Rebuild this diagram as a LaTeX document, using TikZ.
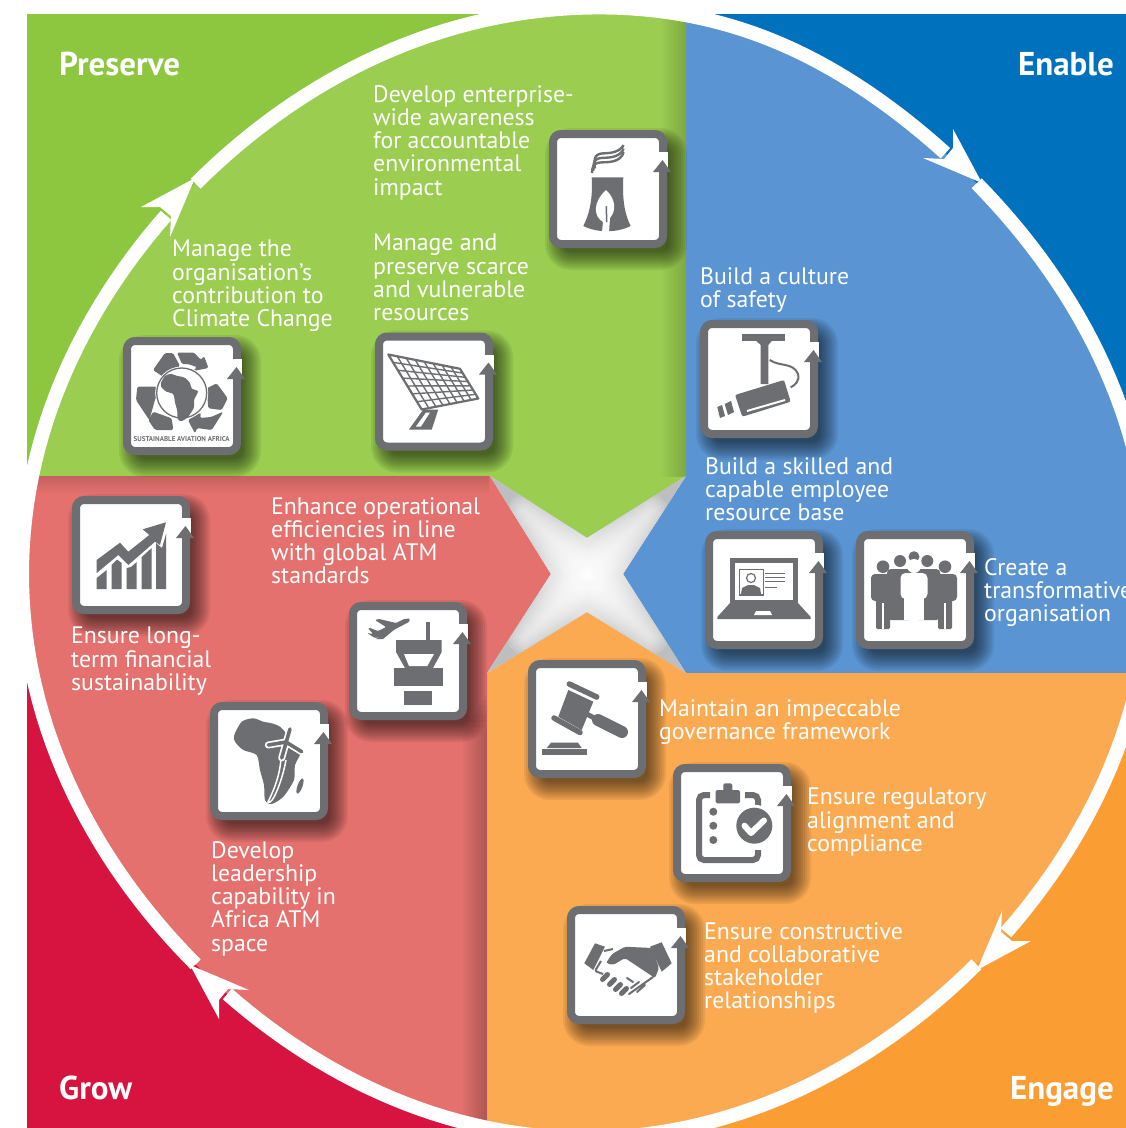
\documentclass[tikz,border=0pt]{standalone}
\usepackage{fontspec}
\setmainfont{PT Sans}
\usepackage{xcolor}
\usepackage{tikz}
\usetikzlibrary{calc}

\definecolor{greenout}{HTML}{8DC63F}
\definecolor{greenin}{HTML}{9ACD50}
\definecolor{blueout}{HTML}{0071BC}
\definecolor{bluein}{HTML}{5A94D2}
\definecolor{orangeout}{HTML}{FA9D33}
\definecolor{orangein}{HTML}{FBAA52}
\definecolor{redout}{HTML}{D7143F}
\definecolor{redin}{HTML}{E4716E}
\definecolor{tilegrey}{HTML}{6D6E71}
\definecolor{stargrey}{HTML}{BDBEC0}

\tikzset{
  tilebox/.style={draw=tilegrey, fill=white, line width=8, rounded corners=8, minimum size=110, inner sep=0},
  capt/.style={anchor=north west, inner sep=0, align=left, text=white, font=\fontsize{23.8}{23.3}\selectfont, execute at begin node=\strut},
  cornertxt/.style={inner sep=0, text=white, font=\fontsize{33}{34}\selectfont\bfseries},
  icongrey/.style={fill=tilegrey, draw=none},
  iconline/.style={draw=tilegrey, fill=none},
  declare function={ringr(\a)=564-12*sin(2*\a)*sin(2*\a)+6*exp(-(((\a+73)/18)^2));}
}

% A tile with its soft shadow
\newcommand{\tile}[3]{
  \foreach \k in {0,...,9} {
    \fill[black, opacity=.065, rounded corners={8+\k*2}] ({#2+8-53-\k*2},{#3+10-53-\k*2}) rectangle ({#2+8+53+\k*2},{#3+10+53+\k*2});
  }
  \node[tilebox] (#1) at (#2,#3) {};
}
% Notch and small arrowhead on the right side of a tile
\newcommand{\tilemark}[1]{
  \fill[white] ([shift={(-10,22)}]#1.north east) rectangle ([shift={(0.5,38)}]#1.north east);
  \fill[icongrey] ([shift={(-4.5,30)}]#1.north east) -- ([shift={(-14,42)}]#1.north east) -- ([shift={(4,42)}]#1.north east) -- cycle;
}
\newcommand{\africashape}{plot[smooth cycle, tension=.45] coordinates {(24.3,33) (31.7,19.7) (43.3,16.3) (53.3,19.7) (61.7,21.3) (70,24.7) (77.3,33) (80.7,43) (91.7,48) (85,63) (84,78) (73.3,94.7) (61.7,102) (55,98) (54,83) (50,68) (46.7,53) (33.3,48) (25,39.7)}}

\begin{document}
\begin{tikzpicture}[x=1pt,y=-1pt]
  \useasboundingbox (0,0) rectangle (1126,1128);

  % Outer corners
  \fill[greenout] (27,14) rectangle (686,476);
  \fill[blueout] (686,14) rectangle (1126,673);
  \fill[orangeout] (487,673) rectangle (1126,1128);
  \fill[redout] (27,476) rectangle (487,1128);

  % Inner quarters
  \begin{scope}
    \clip plot[domain=-135:225,samples=200] ({586+ringr(\x)*cos(\x)},{574+ringr(\x)*sin(\x)}) -- cycle;
    \fill[greenin] (0,0) -- (686,0) -- (686,476) -- (587,538) -- (490,476) -- (0,476) -- cycle;
    \fill[bluein] (686,0) -- (1200,0) -- (1200,673) -- (686,673) -- (623,574) -- (686,476) -- cycle;
    \fill[orangein] (1200,673) -- (1200,1200) -- (487,1200) -- (487,673) -- (587,612) -- (686,673) -- cycle;
    \fill[redin] (487,1200) -- (0,1200) -- (0,476) -- (490,476) -- (551,574) -- (487,673) -- cycle;
    % Soft edges of the quarters
    \shade[left color=greenin, right color=greenin!82!black] (660,0) rectangle (686,476);
    \foreach \k in {1,...,8} {
      \fill[black, opacity=.028] ({487-\k*3},{690+\k*5}) rectangle (487,1200);
    }
    \shade[top color=redin!86!black, bottom color=redin] (0,476) rectangle (489,494);
  \end{scope}

  % Star in the middle
  \begin{scope}
    \clip (490,476) -- (587,538) -- (686,476) -- (623,574) -- (686,673) -- (587,612) -- (487,673) -- (551,574) -- cycle;
    \fill[stargrey] (460,446) rectangle (716,703);
    \shade[inner color=white, outer color=stargrey] (497,484) rectangle (677,664);
    \foreach \w in {6,12,...,36} {
      \draw[white, opacity=.14, line width=\w, line cap=round] (525,512) -- (650,637) (650,512) -- (525,637);
    }
  \end{scope}

  % Ring with its four arrows
  \foreach \a in {0,90,180,270} {
    \draw[white, line width=14] plot[domain={\a-135}:{\a-49.5},samples=60] ({586+ringr(\x)*cos(\x)},{574+ringr(\x)*sin(\x)});
    \fill[white, rotate around={-\a:(586,574)}] (953,129) -- (982,183) -- (923,158) -- (944,159) -- (953,148) -- cycle;
  }

  % Corner names
  \node[cornertxt, anchor=base west] (preserve) at (59,75) {Preserve};
  \node[cornertxt, anchor=base east] (enable) at (1114,75) {Enable};
  \node[cornertxt, anchor=base west] (grow) at (59,1099) {Grow};
  \node[cornertxt, anchor=base east] (engage) at (1114,1099) {Engage};

  % Tiles
  \tile{tower}{608}{189}
  \tile{panel}{434}{391.5}
  \tile{recycle}{182}{396}
  \tile{chart}{131}{555}
  \tile{atc}{408}{661}
  \tile{africa}{269}{761}
  \tile{camera}{759}{379}
  \tile{laptop}{764}{590}
  \tile{people}{915}{590}
  \tile{gavel}{587}{719}
  \tile{clipboard}{732}{823}
  \tile{handshake}{626}{965}
  \foreach \n in {tower,panel,recycle,chart,atc,africa,camera,laptop,people,gavel,clipboard,handshake} {
    \tilemark{\n}
  }

  % Cooling tower
  \begin{scope}[shift=(tower.north west)]
    \fill[icongrey] (42.7,47.3) -- (74.3,47.3) .. controls (73,70) and (76,85) .. (81.7,96) .. controls (68,103) and (48,103) .. (34.3,96) .. controls (40,85) and (44,70) .. (42.7,47.3) -- cycle;
    \fill[white] (57,60) .. controls (44,72) and (44,86) .. (54,92) -- (53,102) -- (60,102) -- (61,88) .. controls (68,80) and (66,68) .. (57,60) -- cycle;
    \fill[icongrey] (56.5,76) -- (58,76) -- (58.5,92) -- (57,92) -- cycle;
    \foreach \s in {0,4.5,9} {
      \draw[iconline, line width=2.4] ({43+\s/3},{43-\s/2}) .. controls (43,{30-\s}) and (52,{33-\s}) .. (60,{32-\s}) .. controls (70,{31-\s}) and (74,{26-\s}) .. (74.5,{22-\s/1.3});
    }
  \end{scope}

  % Solar panel
  \begin{scope}[shift=(panel.north west)]
    \coordinate (pa) at (13.3,22);
    \coordinate (pb) at (85,36.3);
    \coordinate (pc) at (103.3,66);
    \coordinate (pd) at (46.7,77);
    \draw[iconline, line width=2.2, line join=round] (pa) -- (pb) -- (pc) -- (pd) -- cycle;
    \foreach \t in {0.125,0.25,...,0.9} {
      \draw[iconline, line width=1.4] ($(pa)!\t!(pb)$) -- ($(pd)!\t!(pc)$);
    }
    \foreach \t in {0.143,0.286,...,0.9} {
      \draw[iconline, line width=1.4] ($(pa)!\t!(pd)$) -- ($(pb)!\t!(pc)$);
    }
    \fill[icongrey] (48.3,77) -- (63.3,77) -- (56.7,97) -- (34,97) -- cycle;
    \fill[white] (51,80) -- (55,80) -- (46,94) -- (41,94) -- cycle;
  \end{scope}

  % Recycling arrows round Africa
  \begin{scope}[shift=(recycle.north west)]
    \begin{scope}[rounded corners=1.5]
      \fill[icongrey] (30,33) -- (42,16) -- (50,16) -- (57,29) -- (42,41) -- cycle;
      \fill[icongrey] (54,15.5) -- (71,15.5) -- (78,23) -- (81,19) -- (85.5,31) -- (70,34) -- (74,30) -- (65,27) -- (59,27) -- cycle;
      \fill[icongrey] (93.7,46.3) -- (104.7,61.3) -- (98.7,73) -- (85.3,71.3) -- (83.7,51.3) -- cycle;
      \fill[icongrey] (100.3,74.7) -- (88.7,93) -- (74,91) -- (72,96.5) -- (65,83) -- (78,75.5) -- (77,81) -- (88,80) -- cycle;
      \fill[icongrey] (30.3,74.7) -- (48.7,81.3) -- (50.3,93) -- (32,93) -- (25.3,83) -- cycle;
      \fill[icongrey] (14.3,49.7) -- (33.7,49.7) -- (38,62.3) -- (32.7,60.3) -- (26.3,83) -- (13,63) -- cycle;
    \end{scope}
    \fill[white] (58.7,56) circle[radius=26.5];
    \draw[iconline, line width=1.3] (58.7,56) circle[radius=25];
    \begin{scope}[shift={(24.5,28)},scale=.55]
      \fill[icongrey] \africashape;
    \end{scope}
    \node[inner sep=0, text=tilegrey, font=\fontsize{7}{7}\selectfont\bfseries] (sustain) at (58.7,102) {SUSTAINABLE AVIATION AFRICA};
  \end{scope}

  % Rising chart
  \begin{scope}[shift=(chart.north west)]
    \fill[icongrey] (24.7,93) -- (34.7,93) -- (34.7,74) -- (24.7,82) -- cycle;
    \fill[icongrey] (39.7,93) -- (49.7,93) -- (49.7,67) -- (45,63.5) -- (39.7,69) -- cycle;
    \fill[icongrey] (54.7,93) -- (64.7,93) -- (64.7,66) -- (59,71) -- (54.7,72) -- cycle;
    \fill[icongrey] (69.7,93) -- (79.7,93) -- (79.7,52) -- (69.7,61) -- cycle;
    \fill[icongrey] (84,93) -- (94,93) -- (94,38) -- (90,52) -- (84,47) -- cycle;
    \fill[icongrey] (24.7,64) -- (48,46.7) -- (56.3,55.7) -- (77.3,39) -- (70.7,33.3) -- (94,26.3) -- (88,49) -- (83,45.7) -- (56.3,69) -- (46.3,59) -- (24.7,77) -- cycle;
  \end{scope}

  % Control tower and aeroplane
  \begin{scope}[shift=(atc.north west)]
    \fill[icongrey] (77,20.3) rectangle (81,38);
    \fill[icongrey] (47,38) -- (92.7,38) -- (92.7,50) -- (84,66) -- (56,66) -- (47,50) -- cycle;
    \fill[white] (55,52) -- (85,52) -- (78.3,64) -- (60,64) -- cycle;
    \fill[icongrey] (45,66.3) rectangle (93.7,84);
    \fill[icongrey] (55,89) rectangle (83.3,103);
    \fill[icongrey, rounded corners=1] (18,31) -- (26,36) -- (31,35) -- (60,20) -- (61,16.5) -- (55,17) -- (47,21) -- (30,17) -- (26,18) -- (37,25) -- (29,29) -- (21,26) -- (19,26) -- (24,32) -- cycle;
    \fill[icongrey] (36,31) -- (46,27) -- (34,37) -- (27,37) -- cycle;
  \end{scope}

  % Map of Africa with an aeroplane
  \begin{scope}[shift=(africa.north west)]
    \fill[icongrey] \africashape;
    \fill[icongrey, rotate around={-20:(90,84)}] (90,84) ellipse[x radius=2.5, y radius=8];
    \draw[white, line width=1.5] (71,56) .. controls (70,75) and (62,92) .. (58,100) .. controls (62,104) and (72,80) .. (76,58);
    \draw[white, line width=7, line cap=round] (80,27) -- (71.7,56) (58.3,43) -- (76,40) -- (91.7,49.7);
    \draw[tilegrey, line width=3.6, line cap=round] (80,27) -- (71.7,56) (58.3,43) -- (76,40) -- (91.7,49.7);
  \end{scope}

  % Security camera
  \begin{scope}[shift=(camera.north west)]
    \fill[icongrey] (42.3,14.3) rectangle (84.7,20.7);
    \fill[icongrey] (56,20.7) -- (72,20.7) -- (68.3,25) -- (68.3,64) -- (60.7,64) -- (60.7,25) -- cycle;
    \fill[icongrey, rounded corners=2] (35,75) -- (84,60) -- (90.7,81.7) -- (42.3,96.7) -- cycle;
    \draw[white, line width=2] (47,91) -- (85,80);
    \fill[icongrey] (24.7,84) -- (31,81) -- (34,92) -- (28,95) -- cycle;
    \fill[icongrey] (17.3,87) -- (22,85) -- (25,96) -- (20,98) -- cycle;
    \draw[iconline, line width=2] (69.7,40) .. controls (80,47) and (93,42) .. (98,54) .. controls (100,61) and (95,65) .. (90.7,67.3);
  \end{scope}

  % Laptop with a profile
  \begin{scope}[shift=(laptop.north west)]
    \fill[icongrey] (25,27.3) rectangle (93,73);
    \fill[white] (30,32.3) rectangle (88,69);
    \fill[icongrey] (25,72) -- (93,72) -- (105.7,86) -- (105.7,88) -- (12.3,88) -- (12.3,86) -- cycle;
    \fill[white] (51,80) -- (65,80) -- (67,84) -- (49,84) -- cycle;
    \draw[iconline, line width=1.2] (34.3,38.3) rectangle (58.3,64);
    \fill[icongrey] (36,63) -- (37,57) -- (43,54) -- (49,54) -- (55,57) -- (56,63) -- cycle;
    \draw[iconline, line width=1.2] (46,47) circle[radius=4.5];
    \draw[iconline, line width=1.3] (60,42.3) -- (80,42.3) (60,46.3) -- (80,46.3) (60,50.7) -- (80,50.7) (60,56.3) -- (72,56.3);
  \end{scope}

  % Group of people
  \begin{scope}[shift=(people.north west)]
    \fill[icongrey] (58,25.7) circle[radius=5.5];
    \foreach \px in {44,71.3} {
      \fill[icongrey] (\px,30) circle[radius=6];
      \fill[icongrey, rounded corners=4] ({\px-13},38) rectangle ({\px+13},89);
    }
    \fill[white, rounded corners=5] (44.5,42) rectangle (71.5,68);
    \fill[white] (48,66) rectangle (68,89);
    \fill[white] (58,35) circle[radius=7];
    \foreach \px in {27,89} {
      \fill[icongrey] (\px,35.7) circle[radius=6.3];
      \fill[icongrey, rounded corners=4] ({\px-12},43) rectangle ({\px+12},70);
      \fill[icongrey, rounded corners=1.5] ({\px-7},60) rectangle ({\px+7},98);
      \draw[white, line width=1.5] (\px,72) -- (\px,98);
    }
    \draw[white, line width=1.5] (58,68) -- (58,89);
  \end{scope}

  % Gavel
  \begin{scope}[shift=(gavel.north west)]
    \fill[icongrey] (40.3,30) -- (65.3,41.7) -- (53.7,70) -- (30.3,56.7) -- cycle;
    \draw[tilegrey, line width=5.5, line cap=round] (41.3,24) -- (68.7,37);
    \draw[tilegrey, line width=5.5, line cap=round] (26,58) -- (52,72.5);
    \draw[tilegrey, line width=5, line cap=butt] (57,53) -- (68,59);
    \draw[tilegrey, line width=12, line cap=round] (70,60) -- (94,72);
    \fill[icongrey] (13.7,89) rectangle (58.7,95);
    \fill[icongrey] (18.7,88) -- (53.7,88) -- (50,82.7) -- (23,82.7) -- cycle;
  \end{scope}

  % Clipboard with a tick
  \begin{scope}[shift=(clipboard.north west)]
    \draw[iconline, line width=6, rounded corners=5] (37,31) -- (26,31) -- (26,96) -- (85,96) -- (85,86);
    \draw[iconline, line width=6, rounded corners=5] (72,31) -- (85,31) -- (85,42);
    \fill[icongrey, rounded corners=1.5] (42.7,26) rectangle (67,39.3);
    \fill[icongrey, rounded corners=1.5] (50.3,19.3) rectangle (59.3,28);
    \foreach \py in {47.7,61.7,76} {
      \fill[icongrey] (40.3,\py) circle[radius=4];
    }
    \fill[white] (81.3,61.7) circle[radius=21];
    \fill[icongrey] (81.3,61.7) circle[radius=18];
    \draw[white, line width=6, line cap=round, line join=round] (71.5,61.7) -- (78,69) -- (91,56.5);
  \end{scope}

  % Handshake
  \begin{scope}[shift=(handshake.north west)]
    \fill[icongrey] (28,37.3) -- (38,40.7) -- (26.3,64) -- (17.3,57.3) -- cycle;
    \fill[icongrey] (94.7,36.3) -- (104.7,57.3) -- (94.7,65.7) -- (83,40.7) -- cycle;
    \fill[icongrey, rounded corners=2] (85,42) -- (58,40.7) -- (45,48) -- (39,57) -- (46,59) -- (58,52) -- (88,72) -- (92,62) -- cycle;
    \draw[iconline, line width=2, rounded corners=2] (37,45) -- (46,43) (34,55) -- (28,65) -- (36,68);
    \foreach \fx/\fy in {38/71,45/76,51/81,57/85} {
      \draw[tilegrey, line width=5, line cap=round] ({\fx-2.5},{\fy+2.5}) -- ({\fx+2.5},{\fy-2.5});
    }
    \draw[iconline, line width=2, line cap=round] (62,88) -- (86,71) (64,82) -- (72,76) (70,86) -- (78,79) (60,72) -- (66,76);
  \end{scope}

  % Captions
  \node[capt] (t1) at (373,85) {Develop enterprise-\\wide awareness\\for accountable\\environmental\\impact};
  \node[capt] (t2) at (373,234) {Manage and\\preserve scarce\\and vulnerable\\resources};
  \node[capt] (t3) at (172,240) {Manage the\\organisation’s\\contribution to\\Climate Change};
  \node[capt] (t4) at (700,267) {Build a culture\\of safety};
  \node[capt] (t5) at (705,457) {Build a skilled and\\capable employee\\resource base};
  \node[capt] (t6) at (984,558) {Create a\\transformative\\organisation};
  \node[capt] (t7) at (271,497) {Enhance operational\\efficiencies in line\\with global ATM\\standards};
  \node[capt] (t8) at (71,627) {Ensure long-\\term financial\\sustainability};
  \node[capt] (t9) at (211,841) {Develop\\leadership\\capability in\\Africa ATM\\space};
  \node[capt] (t10) at (659,699) {Maintain an impeccable\\governance framework};
  \node[capt] (t11) at (807,788) {Ensure regulatory\\alignment and\\compliance};
  \node[capt] (t12) at (704,922) {Ensure constructive\\and collaborative\\stakeholder\\relationships};
\end{tikzpicture}
\end{document}
